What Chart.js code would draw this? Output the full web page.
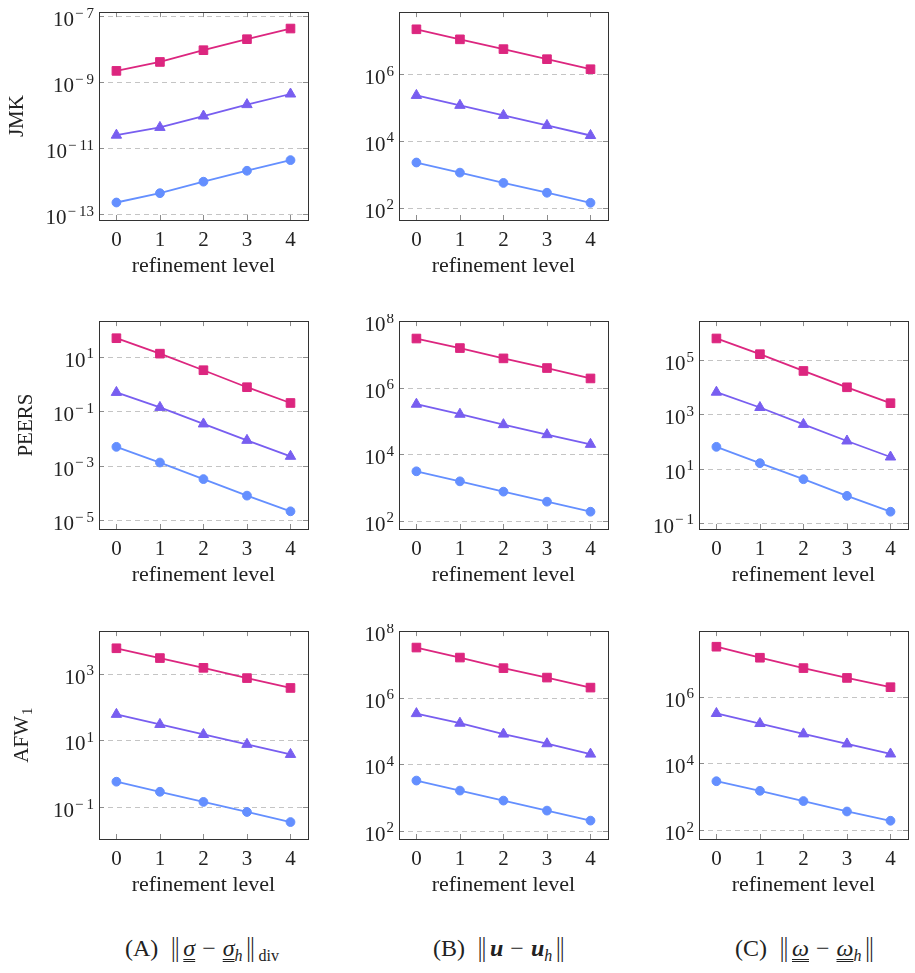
<!DOCTYPE html>
<html>
<head>
<meta charset="utf-8">
<script src="https://cdn.jsdelivr.net/npm/chart.js@4/dist/chart.umd.min.js"></script>
<style>
    body { margin: 0; background: #fff; width: 915px; height: 973px; position: relative; overflow: hidden; font-family: 'Liberation Serif', serif; color: #222; }
    canvas { position: absolute; }
    .caption { position: absolute; top: 934px; font-size: 24px; line-height: 28px; white-space: nowrap; }
    .dbl { font-style: italic; text-decoration: underline double; text-decoration-thickness: 1px; text-underline-offset: 3px; }
    .nrm { font-family: 'DejaVu Sans', sans-serif; font-size: 24px; font-weight: 300; margin: 0 2px; }
    .op { margin: 0 7px; }
    .gap { margin-left: 9px; }
    sub { font-size: 16px; vertical-align: -5px; line-height: 0; }
</style>
</head>
<body>

<div class="caption" style="left:125px">(A)<span class="gap"></span><span class="nrm">‖</span><span class="dbl">σ</span><span class="op">−</span><span class="dbl">σ</span><sub><i>h</i></sub><span class="nrm">‖</span><sub>div</sub></div>
<div class="caption" style="left:433px">(B)<span class="gap"></span><span class="nrm">‖</span><b><i>u</i></b><span class="op">−</span><b><i>u</i></b><sub><i>h</i></sub><span class="nrm">‖</span></div>
<div class="caption" style="left:735px">(C)<span class="gap"></span><span class="nrm">‖</span><span class="dbl">ω</span><span class="op">−</span><span class="dbl">ω</span><sub><i>h</i></sub><span class="nrm">‖</span></div>

<script>
// Refinement levels (x axis)
const levels = [0, 1, 2, 3, 4];

// JMK
const jmkSigmaCirc = [2.3e-13, 4.4e-13, 9.8e-13, 2.1e-12, 4.4e-12];
const jmkSigmaTri = [2.5e-11, 4.3e-11, 9.5e-11, 2.1e-10, 4.4e-10];
const jmkSigmaSq = [2.2e-9, 4.1e-9, 9.3e-9, 2.0e-8, 4.2e-8];
const jmkSigmaTicks = [1e-13, 1e-11, 1e-9, 1e-7];

const jmkUCirc = [2.25e3, 1.12e3, 5.5e2, 2.8e2, 1.4e2];
const jmkUTri = [2.3e5, 1.16e5, 5.8e4, 2.9e4, 1.45e4];
const jmkUSq = [2.2e7, 1.1e7, 5.6e6, 2.8e6, 1.4e6];
const jmkUTicks = [1e2, 1e4, 1e6];

// PEERS
const peersSigmaCirc = [4.9e-3, 1.3e-3, 3.2e-4, 7.9e-5, 2.1e-5];
const peersSigmaTri = [0.49, 0.138, 0.034, 0.0085, 0.0022];
const peersSigmaSq = [48, 13, 3.2, 0.76, 0.2];
const peersSigmaTicks = [1e-5, 1e-3, 1e-1, 1e1];

const peersUCirc = [3.1e3, 1.55e3, 7.6e2, 3.8e2, 1.9e2];
const peersUTri = [3.2e5, 1.6e5, 7.8e4, 3.9e4, 2.0e4];
const peersUSq = [3.0e7, 1.55e7, 7.6e6, 3.9e6, 1.9e6];
const peersUTicks = [1e2, 1e4, 1e6, 1e8];

const peersOmegaCirc = [64, 16, 4.1, 1.0, 0.26];
const peersOmegaTri = [6.6e3, 1.8e3, 4.3e2, 1.05e2, 27];
const peersOmegaSq = [6.3e5, 1.66e5, 4.0e4, 1.0e4, 2.6e3];
const peersOmegaTicks = [1e-1, 1e1, 1e3, 1e5];

// AFW1
const afwSigmaCirc = [0.58, 0.29, 0.144, 0.072, 0.036];
const afwSigmaTri = [60, 30, 15, 7.6, 3.8];
const afwSigmaSq = [5.7e3, 2.9e3, 1.48e3, 7.3e2, 3.7e2];
const afwSigmaTicks = [1e-1, 1e1, 1e3];

const afwUCirc = [3.2e3, 1.6e3, 8.0e2, 4.0e2, 2.0e2];
const afwUTri = [3.3e5, 1.7e5, 8.0e4, 4.1e4, 2.0e4];
const afwUSq = [3.2e7, 1.6e7, 7.7e6, 4.0e6, 2.0e6];
const afwUTicks = [1e2, 1e4, 1e6, 1e8];

const afwOmegaCirc = [2.9e3, 1.5e3, 7.4e2, 3.6e2, 1.9e2];
const afwOmegaTri = [3.1e5, 1.55e5, 7.6e4, 3.8e4, 1.9e4];
const afwOmegaSq = [3.1e7, 1.45e7, 7.1e6, 3.6e6, 1.9e6];
const afwOmegaTicks = [1e2, 1e4, 1e6];

const COLORS = { circ: '#648FFF', tri: '#785EF0', sq: '#DC267F' };
const FONT = 'Liberation Serif';
const FONT_SIZE = 21;

// Frame, dashed grid, inner tick marks, 10^n labels and row label
const framePlugin = {
    id: 'frame',
    beforeDatasetsDraw(chart, args, opts) {
        const { ctx, chartArea: a, scales: { x, y } } = chart;
        ctx.save();
        ctx.lineWidth = 1;
        ctx.strokeStyle = '#c4c4c4';
        ctx.setLineDash([5, 4]);
        opts.yTicks.forEach(v => {
            const py = Math.round(y.getPixelForValue(v)) + 0.5;
            ctx.beginPath();
            ctx.moveTo(a.left, py);
            ctx.lineTo(a.right, py);
            ctx.stroke();
        });
        ctx.setLineDash([]);
        ctx.strokeStyle = '#8c8c8c';
        opts.yTicks.forEach(v => {
            const py = Math.round(y.getPixelForValue(v)) + 0.5;
            ctx.beginPath();
            ctx.moveTo(a.left, py); ctx.lineTo(a.left + 5, py);
            ctx.moveTo(a.right - 5, py); ctx.lineTo(a.right, py);
            ctx.stroke();
        });
        levels.forEach(v => {
            const px = Math.round(x.getPixelForValue(v)) + 0.5;
            ctx.beginPath();
            ctx.moveTo(px, a.top); ctx.lineTo(px, a.top + 5);
            ctx.moveTo(px, a.bottom - 5); ctx.lineTo(px, a.bottom);
            ctx.stroke();
        });
        ctx.restore();
    },
    afterDraw(chart, args, opts) {
        const { ctx, chartArea: a, scales: { y } } = chart;
        const big = FONT_SIZE + 'px "' + FONT + '"';
        const small = '15px "' + FONT + '"';
        ctx.save();
        ctx.strokeStyle = '#333';
        ctx.lineWidth = 1;
        ctx.strokeRect(Math.round(a.left) + 0.5, Math.round(a.top) + 0.5, Math.round(a.right - a.left), Math.round(a.bottom - a.top));

        // y tick labels: 10 with a raised exponent
        ctx.fillStyle = '#222';
        ctx.textAlign = 'left';
        ctx.textBaseline = 'alphabetic';
        opts.yTicks.forEach(v => {
            const py = y.getPixelForValue(v);
            const e = Math.round(Math.log10(v));
            const digits = String(Math.abs(e));
            ctx.font = small;
            const dw = ctx.measureText(digits).width;
            const mw = e < 0 ? ctx.measureText('\u2212').width + 3 : 0;
            ctx.font = big;
            const bw = ctx.measureText('10').width;
            const xr = a.left - 5;
            const x0 = xr - dw - mw - bw - 1;
            ctx.fillText('10', x0, py + 10);
            ctx.font = small;
            if (e < 0) ctx.fillText('\u2212', x0 + bw + 1, py + 1.5);
            ctx.fillText(digits, xr - dw, py + 1.5);
        });

        // row label, rotated, with optional subscript
        if (opts.label) {
            ctx.translate(opts.labelX, (a.top + a.bottom) / 2);
            ctx.rotate(-Math.PI / 2);
            ctx.font = big;
            const lw = ctx.measureText(opts.label).width;
            ctx.font = small;
            const sw = opts.sub ? ctx.measureText(opts.sub).width + 1 : 0;
            const x0 = -(lw + sw) / 2;
            ctx.font = big;
            ctx.fillText(opts.label, x0, 0);
            if (opts.sub) {
                ctx.font = small;
                ctx.fillText(opts.sub, x0 + lw + 1, 4);
            }
        }
        ctx.restore();
    }
};

function series(values, color, style, radius) {
    return {
        data: values.map((v, i) => ({ x: levels[i], y: v })),
        borderColor: color,
        backgroundColor: color,
        borderWidth: 1.8,
        pointStyle: style,
        pointRadius: radius,
        pointBorderWidth: 1,
        pointBackgroundColor: color,
        pointBorderColor: color,
        tension: 0
    };
}

function makePanel(left, top, p) {
    const canvas = document.createElement('canvas');
    canvas.width = 315;
    canvas.height = 277;
    canvas.style.left = left + 'px';
    canvas.style.top = top + 'px';
    document.body.appendChild(canvas);

    const font = { family: FONT, size: FONT_SIZE };

    new Chart(canvas, {
        type: 'line',
        data: {
            datasets: [
                series(p.circ, COLORS.circ, 'circle', 4.4),
                series(p.tri, COLORS.tri, 'triangle', 6),
                series(p.sq, COLORS.sq, 'rect', 6.1)
            ]
        },
        options: {
            responsive: false,
            animation: false,
            devicePixelRatio: 1,
            layout: { padding: { top: 6, right: 7, left: 0, bottom: 0 } },
            plugins: {
                legend: { display: false },
                tooltip: { enabled: false },
                frame: { yTicks: p.ticks, label: p.label, sub: p.sub, labelX: p.labelX }
            },
            scales: {
                x: {
                    type: 'linear',
                    min: -0.4,
                    max: 4.4,
                    grid: { display: false, drawTicks: false },
                    border: { display: false },
                    afterBuildTicks: s => { s.ticks = levels.map(v => ({ value: v })); },
                    afterFit: s => { s.height = 62; },
                    ticks: { font: font, color: '#222', padding: 8, maxRotation: 0, autoSkip: false },
                    title: { display: true, text: 'refinement level', font: { family: FONT, size: 22 }, color: '#222', padding: { top: 0, bottom: 3 } }
                },
                y: {
                    type: 'logarithmic',
                    min: p.min,
                    max: p.max,
                    grid: { display: false, drawTicks: false },
                    border: { display: false },
                    ticks: { display: false },
                    afterFit: s => { s.width = 99; }
                }
            }
        },
        plugins: [framePlugin]
    });
}

// Row 1: JMK
makePanel(0, 5, { label: 'JMK', labelX: 23, circ: jmkSigmaCirc, tri: jmkSigmaTri, sq: jmkSigmaSq, ticks: jmkSigmaTicks, min: 6.8e-14, max: 1.32e-7 });
makePanel(300, 5, { circ: jmkUCirc, tri: jmkUTri, sq: jmkUSq, ticks: jmkUTicks, min: 42.7, max: 7.2e7 });

// Row 2: PEERS
makePanel(0, 314, { label: 'PEERS', labelX: 32, circ: peersSigmaCirc, tri: peersSigmaTri, sq: peersSigmaSq, ticks: peersSigmaTicks, min: 4.7e-6, max: 204 });
makePanel(300, 314, { circ: peersUCirc, tri: peersUTri, sq: peersUSq, ticks: peersUTicks, min: 57.5, max: 1e8 });
makePanel(600, 314, { circ: peersOmegaCirc, tri: peersOmegaTri, sq: peersOmegaSq, ticks: peersOmegaTicks, min: 0.06, max: 2.75e6 });

// Row 3: AFW1
makePanel(0, 624, { label: 'AFW', sub: '1', labelX: 28, circ: afwSigmaCirc, tri: afwSigmaTri, sq: afwSigmaSq, ticks: afwSigmaTicks, min: 0.0112, max: 1.86e4 });
makePanel(300, 624, { circ: afwUCirc, tri: afwUTri, sq: afwUSq, ticks: afwUTicks, min: 56, max: 1e8 });
makePanel(600, 624, { circ: afwOmegaCirc, tri: afwOmegaTri, sq: afwOmegaSq, ticks: afwOmegaTicks, min: 54, max: 9.1e7 });
</script>
</body>
</html>
